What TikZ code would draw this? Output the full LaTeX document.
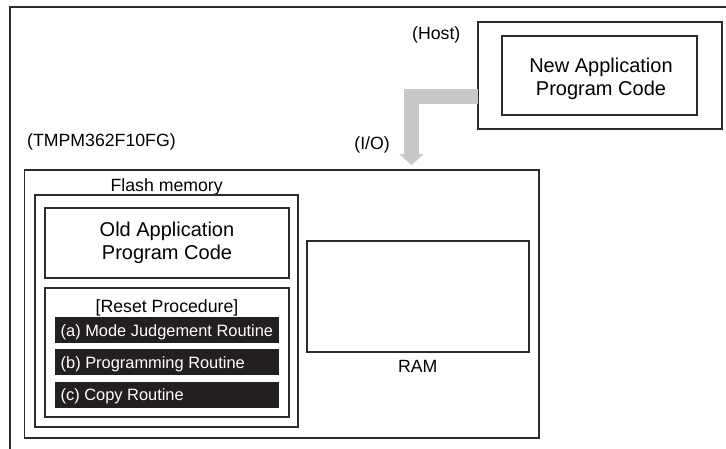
\documentclass[tikz,border=0pt]{standalone}
\usepackage{fontspec}
\setmainfont{Liberation Sans}
\usetikzlibrary{arrows.meta,calc}
\definecolor{linec}{HTML}{2B2B2B}
\definecolor{barc}{HTML}{231F20}
\definecolor{arrowc}{HTML}{C8C8C8}
\begin{document}
\begin{tikzpicture}[x=1pt,y=-1pt,
  box/.style={draw=linec,line width=1.5pt,inner sep=0pt,outer sep=0pt,anchor=north west},
  bar/.style={fill=barc,draw=none,inner sep=0pt,outer sep=0pt,anchor=north west,minimum width=224pt,minimum height=26pt},
  lbl/.style={inner sep=0pt,font=\fontsize{17.7}{20}\selectfont},
  big/.style={inner sep=0pt,align=center,font=\fontsize{20}{23}\selectfont},
  bartxt/.style={inner sep=0pt,text=white,font=\fontsize{16.4}{19}\selectfont,anchor=base west},
  ioarrow/.style={draw=arrowc,line width=15pt,-{Triangle[width=24pt,length=11pt]}}]
\useasboundingbox (0,0) rectangle (726,448);
\clip (0,0) rectangle (726,448);
% outer frame (extends beyond the picture)
\node[box,minimum width=740pt,minimum height=460pt] (frame) at (10,7) {};
% host
\node[box,minimum width=244pt,minimum height=107pt] (hostout) at (478,22) {};
\node[box,minimum width=195pt,minimum height=79pt] (hostin) at (502,36) {};
\node[big] (newapp) at (601,78.7) {New Application\\Program Code};
\node[lbl,anchor=base west] (hostlbl) at (412,39) {(Host)};
% chip
\node[lbl,anchor=base west] (chiplbl) at (27,146) {(TMPM362F10FG)};
\node[box,minimum width=514.5pt,minimum height=268pt] (chip) at (24.5,170) {};
\node[lbl,anchor=base east] (iolbl) at (390,149.5) {(I/O)};
% I/O arrow
\coordinate (iostart) at ($(hostout.north west)+(0,74)$);
\coordinate (ioend) at ($(chip.north west)+(387,-5)$);
\draw[ioarrow] (iostart) -| (ioend);
% flash
\node[lbl,anchor=base] (flashlbl) at (166.7,191.7) {Flash memory};
\node[box,minimum width=263pt,minimum height=232pt] (flash) at (35,195) {};
\node[box,minimum width=244pt,minimum height=70pt] (oldapp) at (45,208) {};
\node[big] (oldtxt) at (oldapp.center) {Old Application\\Program Code};
\node[box,minimum width=244pt,minimum height=129pt] (reset) at (45,288) {};
\node[lbl,anchor=base] (resetlbl) at (167,312) {[Reset Procedure]};
\node[bar] (bara) at (55,317) {};
\node[bar] (barb) at (55,349) {};
\node[bar] (barc) at (55,381.5) {};
\node[bartxt] (txta) at (60.5,336) {(a) Mode Judgement Routine};
\node[bartxt] (txtb) at (60.5,368.3) {(b) Programming Routine};
\node[bartxt] (txtc) at (60.5,400.5) {(c) Copy Routine};
% RAM
\node[box,minimum width=222pt,minimum height=111pt] (ram) at (307,241) {};
\node[lbl,anchor=base] (ramlbl) at (417.7,372.3) {RAM};
\end{tikzpicture}
\end{document}
